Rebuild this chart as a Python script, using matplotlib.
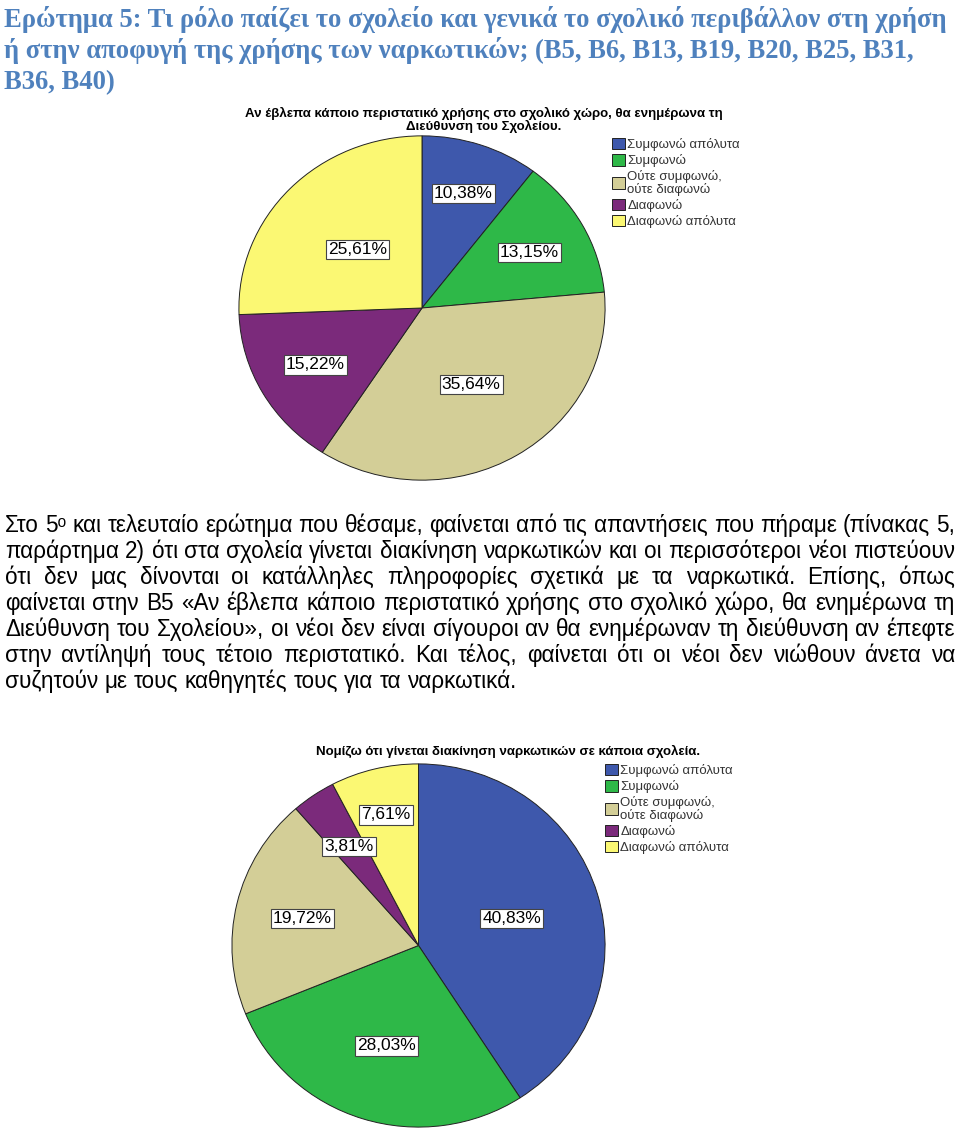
import numpy as np
import matplotlib
matplotlib.use('Agg')
import matplotlib.pyplot as plt

W, H = 960, 1132

# κατηγορίες απαντήσεων και χρώματα (όπως στο SPSS)
categories = ['Συμφωνώ απόλυτα', 'Συμφωνώ', 'Ούτε συμφωνώ,\nούτε διαφωνώ', 'Διαφωνώ', 'Διαφωνώ απόλυτα']
colors = ['#3E58AC', '#2EB848', '#D3CE97', '#7B2A7B', '#FBF873']

# B5
title_b5 = 'Αν έβλεπα κάποιο περιστατικό χρήσης στο σχολικό χώρο, θα ενημέρωνα τη\nΔιεύθυνση του Σχολείου.'
values_b5 = [10.38, 13.15, 35.64, 15.22, 25.61]

# B6
title_b6 = 'Νομίζω ότι γίνεται διακίνηση ναρκωτικών σε κάποια σχολεία.'
values_b6 = [40.83, 28.03, 19.72, 3.81, 7.61]

heading_lines = [
    'Ερώτημα 5: Τι ρόλο παίζει το σχολείο και γενικά το σχολικό περιβάλλον στη χρήση',
    'ή στην αποφυγή της χρήσης των ναρκωτικών; (Β5, Β6, Β13, Β19, Β20, Β25, Β31,',
    'Β36, Β40)',
]

body_lines = [
    'Στο 5ᵒ και τελευταίο ερώτημα που θέσαμε, φαίνεται από τις απαντήσεις που πήραμε (πίνακας 5,',
    'παράρτημα 2) ότι στα σχολεία γίνεται διακίνηση ναρκωτικών και οι περισσότεροι νέοι πιστεύουν',
    'ότι δεν μας δίνονται οι κατάλληλες πληροφορίες σχετικά με τα ναρκωτικά. Επίσης, όπως',
    'φαίνεται στην Β5 «Αν έβλεπα κάποιο περιστατικό χρήσης στο σχολικό χώρο, θα ενημέρωνα τη',
    'Διεύθυνση του Σχολείου», οι νέοι δεν είναι σίγουροι αν θα ενημέρωναν τη διεύθυνση αν έπεφτε',
    'στην αντίληψή τους τέτοιο περιστατικό. Και τέλος, φαίνεται ότι οι νέοι δεν νιώθουν άνετα να',
    'συζητούν με τους καθηγητές τους για τα ναρκωτικά.',
]

fig = plt.figure(figsize=(W / 100, H / 100), dpi=100)
fig.canvas.draw()
renderer = fig.canvas.get_renderer()


def fx(x):
    return x / W


def fy(y):
    return 1 - y / H


def text_width(s, **kw):
    t = fig.text(0, 0, s, **kw)
    w = t.get_window_extent(renderer).width
    t.remove()
    return w


# επικεφαλίδα
head_font = dict(family=['Liberation Serif', 'DejaVu Serif'], weight='bold')
hs = 18 * 943 / text_width(heading_lines[0], fontsize=18, **head_font)
for i, line in enumerate(heading_lines):
    fig.text(fx(4), fy(27 + 31 * i), line, fontsize=hs, color='#4F81BD',
             va='baseline', ha='left', **head_font)

# κείμενο με πλήρη στοίχιση - μέγεθος γραμματοσειράς ώστε η 2η γραμμή να γεμίζει
left, right = 5, 955
body_family = ['Liberation Sans', 'DejaVu Sans']
bs = 13 * (right - left - 2) / text_width(body_lines[1], fontsize=13, family=body_family)
body_font = dict(family=body_family, fontsize=bs)
space_w = text_width('a a', **body_font) - text_width('aa', **body_font)
for i, line in enumerate(body_lines):
    words = line.split(' ')
    widths = [text_width(w, **body_font) for w in words]
    if i < len(body_lines) - 1:
        gap = (right - left - sum(widths)) / (len(words) - 1)
    else:
        gap = space_w
    x = left
    for w, ww in zip(words, widths):
        fig.text(fx(x), fy(532 + 26 * i), w, va='baseline', ha='left', color='black', **body_font)
        x += ww + gap


def draw_pie(box, values, label_r, title, title_xy, legend_xy):
    l, t, r, b = box
    ax = fig.add_axes([fx(l), fy(b), (r - l) / W, (b - t) / H])
    wedges, _ = ax.pie(values, colors=colors, startangle=90, counterclock=False,
                       wedgeprops=dict(edgecolor='#222222', linewidth=0.7))
    ax.set_aspect('auto')
    ax.set_xlim(-1.005, 1.005)
    ax.set_ylim(-1.005, 1.005)
    for w, v, rr in zip(wedges, values, label_r):
        ang = np.deg2rad((w.theta1 + w.theta2) / 2)
        ax.text(rr * np.cos(ang), rr * np.sin(ang), f'{v:.2f}%'.replace('.', ','),
                ha='center', va='center', fontsize=12.5, family='Liberation Sans',
                bbox=dict(boxstyle='square,pad=0.12', fc='white', ec='#444444', lw=0.8))
    fig.text(fx(title_xy[0]), fy(title_xy[1]), title, ha='center', va='top',
             fontsize=9.5, weight='bold', family='Liberation Sans', linespacing=0.95)
    leg = fig.legend(wedges, categories, loc='upper left',
                     bbox_to_anchor=(fx(legend_xy[0]), fy(legend_xy[1])),
                     frameon=False, prop=dict(family='Liberation Sans', size=9.5), labelcolor='#333333',
                     handlelength=0.95, handleheight=0.95, handletextpad=0.2, labelspacing=0.22,
                     borderpad=0, borderaxespad=0)
    for txt in leg.get_texts():
        txt.set_linespacing(0.95)


draw_pie((238, 135, 606, 481), values_b5, [0.70, 0.67, 0.52, 0.67, 0.49],
         title_b5, (484, 107), (612, 138))
draw_pie((231, 763, 606, 1128), values_b6, [0.52, 0.58, 0.64, 0.66, 0.74],
         title_b6, (508, 745), (605, 764))

fig.savefig('out.png', dpi=100)
